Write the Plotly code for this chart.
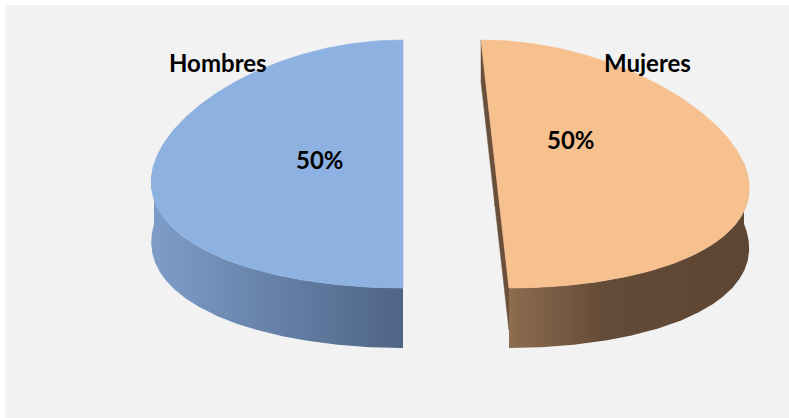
import numpy as np
import plotly.graph_objects as go

# ---- data ----
labels = ["Hombres", "Mujeres"]
values = [50, 50]

# ---- styles ----
top_colors = ["#8db2e2", "#f7c08f"]
side_scales = [
    [[0, "#7d9dc9"], [1, "#4e6485"]],
    [[0, "#8d6c4f"], [0.4, "#644b37"], [1, "#5e4634"]],
]
cut_colors = ["#4e6485", "#6a503a"]
label_pos = [(218, 62), (647, 62)]
pct_pos = [(320, 159), (571, 139)]

# geometry (pixel space)
CX, CY = 449.0, 164.0      # pie centre
RX, RY = 249.0, 124.0      # radii of top ellipse
DEPTH = 60.0               # thickness
EXPLODE = 46.0             # explosion distance
VX = 403.0                 # perspective vanishing x
PERSP = 0.152              # perspective strength
START = 180.0              # start angle (deg, clockwise from 12 o'clock)
N = 240


def project(u, v, dz=0.0):
    u = np.asarray(u, float)
    v = np.asarray(v, float)
    x = VX + (1 + PERSP * v) * (u - VX)
    y = CY + RY * v + dz
    return x, y


def rim(cu, cv, a_from, a_to, dz=0.0, n=N):
    th = np.radians(np.linspace(a_from, a_to, n))
    u = cu + RX * np.sin(th)
    v = cv - np.cos(th)
    return project(u, v, dz)


total = float(sum(values))
fig = go.Figure()
tops = []
a = START
for i, (lab, val) in enumerate(zip(labels, values)):
    a1 = a
    a2 = a + 360.0 * val / total
    a = a2
    m = np.radians((a1 + a2) / 2)
    cu = CX + EXPLODE * np.sin(m)
    cv = -(EXPLODE / RX) * np.cos(m)

    # cut faces (radial walls)
    for edge, phi in ((a1, a1 - 90), (a2, a2 + 90)):
        e = np.radians(edge)
        pr = np.radians(phi)
        nu, nv = np.sin(pr), -np.cos(pr)
        mu = cu + 0.5 * RX * np.sin(e)
        mv = cv - 0.5 * np.cos(e)
        cam_u, cam_v = VX, 1.0 / PERSP
        if nu * (cam_u - mu) + nv * (cam_v - mv) * RX <= 1e-6:
            continue
        ru, rv = cu + RX * np.sin(e), cv - np.cos(e)
        xs, ys = [], []
        for (uu, vv, dz) in ((cu, cv, 0), (ru, rv, 0), (ru, rv, DEPTH * 0.7), (cu, cv, DEPTH * 0.7)):
            px, py = project(uu, vv, dz)
            xs.append(float(px)); ys.append(float(py))
        fig.add_trace(go.Scatter(x=xs + [xs[0]], y=ys + [ys[0]], mode="lines",
                                 fill="toself", fillcolor=cut_colors[i],
                                 line=dict(width=0.5, color=cut_colors[i]),
                                 hoverinfo="skip", showlegend=False))

    # outer curved wall: visible where facing front (angles 90..270 mod 360)
    for off in (-360, 0, 360):
        lo, hi = max(a1, 90 + off), min(a2, 270 + off)
        if hi - lo < 0.5:
            continue
        tx, ty = rim(cu, cv, lo, hi)
        bx, by = rim(cu, cv, hi, lo, DEPTH)
        xs = np.concatenate([tx, bx, tx[:1]])
        ys = np.concatenate([ty, by, ty[:1]])
        fig.add_trace(go.Scatter(x=xs, y=ys, mode="lines", fill="toself",
                                 fillgradient=dict(type="horizontal",
                                                   colorscale=side_scales[i]),
                                 line=dict(width=0),
                                 hoverinfo="skip", showlegend=False))

    # top face
    px0, py0 = project(cu, cv)
    tx, ty = rim(cu, cv, a1, a2)
    xs = np.concatenate([[px0], tx, [px0]])
    ys = np.concatenate([[py0], ty, [py0]])
    tops.append(go.Scatter(x=xs, y=ys, mode="lines", fill="toself",
                           fillcolor=top_colors[i],
                           line=dict(width=0.6, color=top_colors[i]),
                           hoverinfo="skip", showlegend=False))

for t in tops:
    fig.add_trace(t)

font = dict(family="Lato, 'Open Sans', sans-serif", size=24, color="#000000", weight="bold")
annotations = []
for i, (lab, val) in enumerate(zip(labels, values)):
    annotations.append(dict(x=label_pos[i][0], y=label_pos[i][1], text=lab,
                            showarrow=False, font=font, xanchor="center", yanchor="middle"))
    annotations.append(dict(x=pct_pos[i][0], y=pct_pos[i][1],
                            text=f"{100 * val / total:.0f}%",
                            showarrow=False, font=font, xanchor="center", yanchor="middle"))

fig.update_layout(
    width=789, height=418,
    margin=dict(l=5, t=5, r=0, b=0),
    paper_bgcolor="#ffffff",
    plot_bgcolor="#f2f2f2",
    xaxis=dict(range=[5, 789], visible=False, fixedrange=True),
    yaxis=dict(range=[418, 5], visible=False, fixedrange=True),
    annotations=annotations,
    showlegend=False,
)

fig.write_html("out.html", config={"displayModeBar": False},
               post_script="document.body.style.margin='0';document.body.style.padding='0';")
